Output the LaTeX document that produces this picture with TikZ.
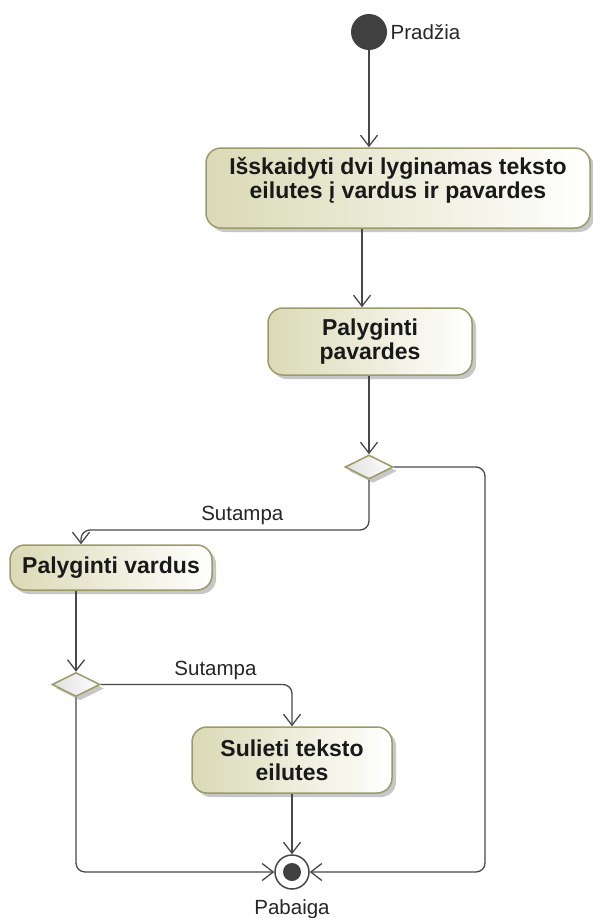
\documentclass[tikz,border=0pt]{standalone}
\usepackage{fontspec}
\setmainfont{Liberation Sans}
\usetikzlibrary{arrows.meta,shapes.geometric,shadows}
\definecolor{actfill}{RGB}{218,218,182}
\definecolor{actline}{RGB}{155,155,105}
\definecolor{diafill}{RGB}{224,224,224}
\definecolor{flowline}{RGB}{72,72,72}
\definecolor{dotgray}{RGB}{64,64,64}
\tikzset{
  action/.style={draw=actline, line width=1.5pt, rounded corners=15pt,
    left color=actfill, right color=white, align=center, inner sep=0pt,
    font=\fontsize{23}{24}\selectfont\bfseries, text=black!90,
    drop shadow={shadow xshift=4pt, shadow yshift=-4pt, fill=black, opacity=.22}},
  decision/.style={diamond, aspect=2, draw=actline, line width=1.5pt,
    left color=diafill, right color=white, minimum width=48pt, minimum height=24pt, inner sep=0pt,
    drop shadow={shadow xshift=4pt, shadow yshift=-4pt, fill=black, opacity=.22}},
  initial/.style={circle, fill=dotgray, minimum size=36pt, inner sep=0pt},
  final/.style={circle, draw=flowline, line width=1.5pt, fill=white, minimum size=34pt, inner sep=0pt,
    path picture={\fill[dotgray] (path picture bounding box.center) circle (9pt);}},
  flow/.style={draw=flowline, line width=1.3pt, rounded corners=9pt,
    -{Straight Barb[length=11pt, width=17pt]}},
  guard/.style={font=\fontsize{20.5}{22}\selectfont, text=black!85}
}
\begin{document}
\begin{tikzpicture}[x=1pt, y=-1pt]
  \useasboundingbox (0,0) rectangle (593,918);
  % nodes
  \node[initial] (start) at (369,32) {};
  \node[guard, right] (startlbl) at (start.east) {Pradžia};
  \node[action, minimum width=384pt, minimum height=80pt, text depth=20pt] (split) at (398,188)
    {Išskaidyti dvi lyginamas teksto\\eilutes į vardus ir pavardes};
  \node[action, minimum width=204pt, minimum height=67pt] (surn) at (370,341.5) {Palyginti\\pavardes};
  \node[decision] (d1) at (369,467) {};
  \node[action, minimum width=202pt, minimum height=45pt] (names) at (111,567.5) {Palyginti vardus};
  \node[decision] (d2) at (76,684.5) {};
  \node[action, minimum width=200pt, minimum height=66pt] (merge) at (292,760) {Sulieti teksto\\eilutes};
  \node[final] (end) at (292,872) {};
  \node[guard, below=6pt] (endlbl) at (end.south) {Pabaiga};
  % flows
  \draw[flow] (start) -- (start |- split.north);
  \draw[flow] ([xshift=-8pt]surn.north |- split.south) -- ([xshift=-8pt]surn.north);
  \draw[flow] (d1 |- surn.south) -- (d1.north);
  \draw[flow] (d1.south) |- node[guard, above=1pt, pos=.72] (g1) {Sutampa}
    ([xshift=-30pt]names.north |- 0,530) -- ([xshift=-30pt]names.north);
  \draw[flow] (d1.east) -- (d1.east -| 485,0) |- (end.east);
  \draw[flow] (d2 |- names.south) -- (d2.north);
  \draw[flow] (d2.east) -| node[guard, above=1pt, pos=.3] (g2) {Sutampa} (merge.north);
  \draw[flow] (merge) -- (end);
  \draw[flow] (d2.south) |- (end.west);
\end{tikzpicture}
\end{document}
